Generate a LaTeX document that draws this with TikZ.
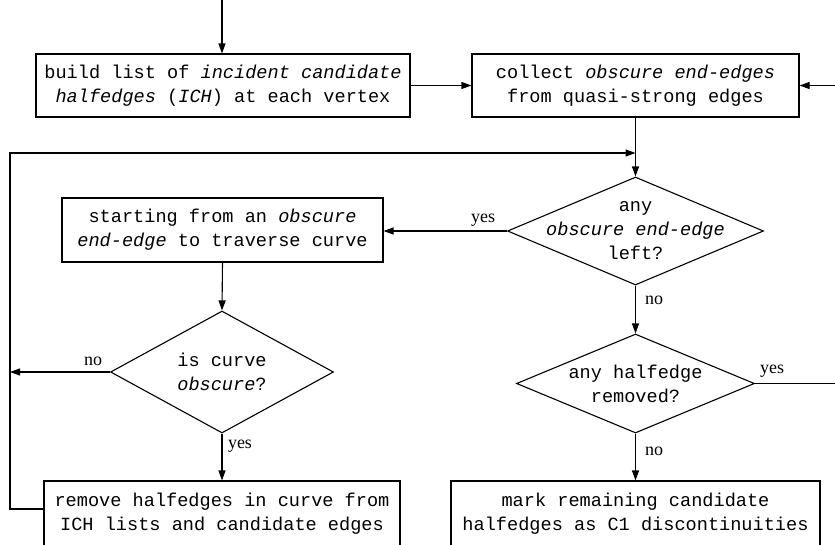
\documentclass[tikz,border=0pt]{standalone}
\usepackage{fontspec}
\setmainfont{Liberation Serif}
\setmonofont{Liberation Mono}
\usetikzlibrary{shapes.geometric,arrows.meta}
\begin{document}
\begin{tikzpicture}[x=1pt,y=-1pt,
  box/.style={draw, line width=1.1pt, inner sep=0pt, align=center,
    font=\ttfamily\fontsize{18.6}{24}\selectfont},
  dia/.style={draw, diamond, line width=1.1pt, inner sep=0pt},
  dtext/.style={align=center, inner sep=0pt,
    font=\ttfamily\fontsize{18.6}{24}\selectfont},
  conn/.style={line width=1.1pt},
  arr/.style={conn, -{Triangle[length=10pt,width=7pt]}},
  lab/.style={font=\fontsize{18}{20}\selectfont, anchor=base, inner sep=0pt}
]
\useasboundingbox (0,0) rectangle (835,544);

\node[box, minimum width=374pt, minimum height=63pt] (b1) at (223,85.5)
  {build list of \textit{incident candidate}\\\textit{halfedges} (\textit{ICH}) at each vertex};
\node[box, minimum width=327pt, minimum height=63pt] (b2) at (635.5,85.5)
  {collect \textit{obscure end-edges}\\from quasi-strong edges};
\node[box, minimum width=321pt, minimum height=64pt] (b3) at (222.5,230)
  {starting from an \textit{obscure}\\\textit{end-edge} to traverse curve};
\node[box, minimum width=356pt, minimum height=66pt] (b4) at (222,514)
  {remove halfedges in curve from\\ICH lists and candidate edges};
\node[box, minimum width=369pt, minimum height=66pt] (b5) at (635.5,514)
  {mark remaining candidate\\halfedges as C1 discontinuities};

\node[dia, minimum width=256pt, minimum height=108pt] (d1) at (635.5,231) {};
\node[dtext] (d1t) at (d1.center) {any\\\textit{obscure end-edge}\\left?};
\node[dia, minimum width=223pt, minimum height=122pt] (d2) at (222,372) {};
\node[dtext] (d2t) at (d2.center) {is curve\\\textit{obscure}?};
\node[dia, minimum width=238pt, minimum height=99pt] (d3) at (635.5,383.5) {};
\node[dtext] (d3t) at (d3.center) {any halfedge\\removed?};

\coordinate (t) at (222,0);
\coordinate (lb) at (10,509);
\coordinate (lt) at (10,153);
\coordinate (ln) at (10,372);
\coordinate (r) at (836,0);

\draw[arr] (t) -- (t |- b1.north);
\draw[arr] (b1.east) -- (b2.west);
\draw[arr] (b2.south) -- (d1.north);
\draw[arr] (b4.west |- lb) -- (lb) -- (lt) -- (b2.south |- lt);
\draw[arr] (d1.west) -- (b3.east |- d1.west);
\draw[arr] (b3.south) -- (d2.north);
\draw[arr] (d2.west) -- (ln);
\draw[arr] (d2.south) -- (b4.north);
\draw[arr] (d1.south) -- (d3.north);
\draw[arr] (d3.south) -- (b5.north);
\draw[arr] (d3.east) -- (d3.east -| r) -- (b2.east -| r) -- (b2.east);

\node[lab] (l1) at (483,222) {yes};
\node[lab] (l2) at (93,365) {no};
\node[lab] (l3) at (240,448) {yes};
\node[lab] (l4) at (654,304) {no};
\node[lab] (l5) at (772,373) {yes};
\node[lab] (l6) at (654,455) {no};
\end{tikzpicture}
\end{document}
